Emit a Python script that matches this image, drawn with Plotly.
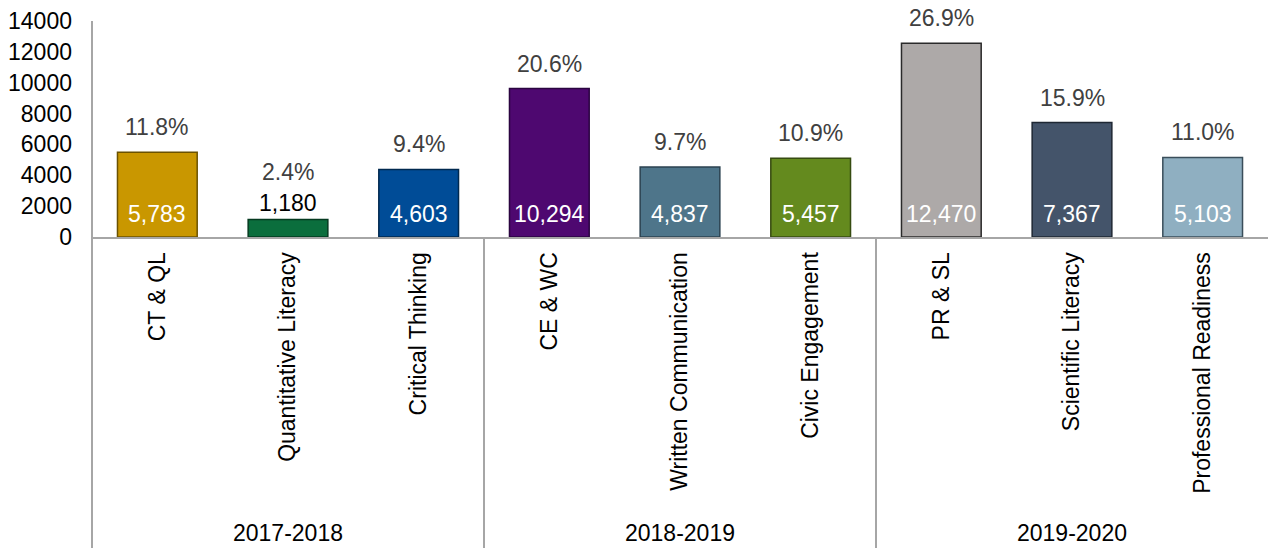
import plotly.graph_objects as go

categories = ["CT & QL", "Quantitative Literacy", "Critical Thinking",
              "CE & WC", "Written Communication", "Civic Engagement",
              "PR & SL", "Scientific Literacy", "Professional Readiness"]
years = ["2017-2018", "2018-2019", "2019-2020"]
# counts as printed on the bars
counts = [5783, 1180, 4603, 10294, 4837, 5457, 12470, 7367, 5103]
# bar heights as drawn in the picture (read against the y axis)
bar_heights = [5490, 1140, 4380, 9620, 4530, 5100, 12550, 7420, 5160]
shares = [11.8, 2.4, 9.4, 20.6, 9.7, 10.9, 26.9, 15.9, 11.0]
fill_colors = ["#C99700", "#0B6E3D", "#004C97", "#4E0870", "#4E758A",
               "#648A1E", "#ADA9A8", "#44546A", "#8FAFC1"]
edge_colors = ["#6B5200", "#053A20", "#00294F", "#2A0440", "#2B4250",
               "#364B10", "#2A2A2A", "#1E2733", "#3A4E5A"]

FONT = "Arial, Liberation Sans, sans-serif"
x_pos = list(range(len(categories)))

fig = go.Figure()
fig.add_trace(go.Bar(
    x=x_pos,
    y=bar_heights,
    width=0.61,
    marker=dict(color=fill_colors, line=dict(color=edge_colors, width=1.5)),
    hoverinfo="skip",
    showlegend=False,
))

annotations = []
for i, (h, n, p) in enumerate(zip(bar_heights, counts, shares)):
    small = h < 2000
    # count label: inside at bottom, or just above a short bar
    annotations.append(dict(
        x=i, y=h if small else 0, xref="x", yref="y",
        text=f"{n:,}", showarrow=False, yanchor="bottom",
        yshift=1 if small else 8,
        font=dict(family=FONT, size=23, color="#000000" if small else "#FFFFFF"),
    ))
    annotations.append(dict(
        x=i, y=h, xref="x", yref="y",
        text=f"{p:.1f}%", showarrow=False, yanchor="bottom",
        yshift=32 if small else 10,
        font=dict(family=FONT, size=23, color="#404040"),
    ))

# year group labels under the category labels
for g, yr in enumerate(years):
    annotations.append(dict(
        x=g * 3 + 1, y=-1.37, xref="x", yref="paper",
        text=yr, showarrow=False, yanchor="middle",
        font=dict(family=FONT, size=23, color="#000000"),
    ))

line_style = dict(color="#A6A6A6", width=2)
shapes = [dict(type="line", xref="paper", yref="paper", x0=0, x1=0,
               y0=-1.45, y1=1, line=line_style)]
for b in (2.5, 5.5):
    shapes.append(dict(type="line", xref="x", yref="paper", x0=b, x1=b,
                       y0=-1.45, y1=0, line=line_style))

fig.update_layout(
    width=1268, height=548,
    margin=dict(l=92, r=0, t=21, b=311),
    paper_bgcolor="white", plot_bgcolor="white",
    font=dict(family=FONT, size=23, color="#000000"),
    annotations=annotations,
    shapes=shapes,
)
fig.update_xaxes(
    range=[-0.5, 8.5], tickmode="array", tickvals=x_pos, ticktext=categories,
    tickangle=-90, showline=True, linecolor="#A6A6A6", linewidth=2,
    showgrid=False, zeroline=False, ticks="", ticklabelstandoff=4,
    tickfont=dict(family=FONT, size=23, color="#000000"),
)
fig.update_yaxes(
    range=[0, 14000], dtick=2000, tickformat="d", showgrid=False,
    zeroline=False, showline=False, ticks="", ticklabelstandoff=19,
    tickfont=dict(family=FONT, size=23, color="#000000"),
)

# drop the browser's default body margin so the figure fills the window
fig.write_html("out.html", config={"displayModeBar": False},
               post_script="document.body.style.margin='0';")
